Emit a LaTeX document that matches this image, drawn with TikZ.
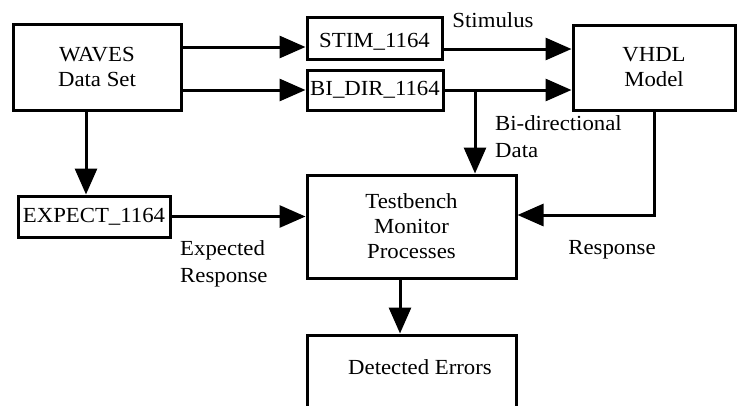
\documentclass[tikz,border=0pt]{standalone}
\usepackage{fontspec}
\setmainfont{Liberation Serif}[FakeStretch=1.06]
\usetikzlibrary{arrows.meta,calc}
\begin{document}
\begin{tikzpicture}[x=1pt,y=-1pt,
  box/.style={draw,line width=3pt,inner sep=0pt,align=center,font=\fontsize{21.5}{25}\selectfont},
  lbl/.style={inner sep=0pt,align=left,font=\fontsize{21.5}{27}\selectfont},
  arr/.style={line width=3pt,-{Triangle[length=26pt,width=22pt]}}]
\useasboundingbox (0,0) rectangle (738,405);
\clip (0,0) rectangle (738,405);
\node[box,minimum width=168pt,minimum height=86pt] (waves) at (97,67) {WAVES\\Data Set};
\node[box,minimum width=135pt,minimum height=42pt,text depth=0pt] (stim) at (374.5,38) {\raisebox{-4pt}{STIM\_1164}};
\node[box,minimum width=136pt,minimum height=40pt] (bidir) at (375,90) {\raisebox{-4pt}{BI\_DIR\_1164}};
\node[box,minimum width=162pt,minimum height=85pt] (vhdl) at (654,67.5) {VHDL\\Model};
\node[box,minimum width=152pt,minimum height=41pt] (expect) at (94,216.5) {EXPECT\_1164};
\node[box,minimum width=209pt,minimum height=103pt] (tb) at (411.5,226.5) {Testbench\\Monitor\\Processes};
\node[box,minimum width=209pt,minimum height=130pt] (det) at (411.5,400) {};
\node[lbl] (detl) at (420,367) {Detected Errors};
\node[lbl] (stiml) at (493,20) {Stimulus};
\node[lbl,anchor=west] (bidl) at (495,137) {Bi-directional\\Data};
\node[lbl,anchor=west] (expl) at (180,264) {Expected\\Response};
\node[lbl] (respl) at (612,250) {Response};
\coordinate (br) at (475,90);
\draw[arr] ([yshift=-9pt]stim.west -| waves.east) -- ([yshift=-9pt]stim.west);
\draw[arr] (bidir.west -| waves.east) -- (bidir.west);
\draw[arr] ([yshift=-11pt]stim.east) -- ([yshift=-11pt]stim.east -| vhdl.west);
\draw[arr] (bidir.east) -- (bidir.east -| vhdl.west);
\draw[arr] (br) -- (br |- tb.north);
\draw[arr] ([xshift=-11pt]waves.south) -- ([xshift=-11pt]waves.south |- expect.north);
\draw[arr] (expect.east) -- (expect.east -| tb.west);
\draw[arr] (vhdl.south) |- ([yshift=11.5pt]tb.east);
\draw[arr] ([xshift=-11.5pt]tb.south) -- ([xshift=-11.5pt]tb.south |- det.north);
\end{tikzpicture}
\end{document}
